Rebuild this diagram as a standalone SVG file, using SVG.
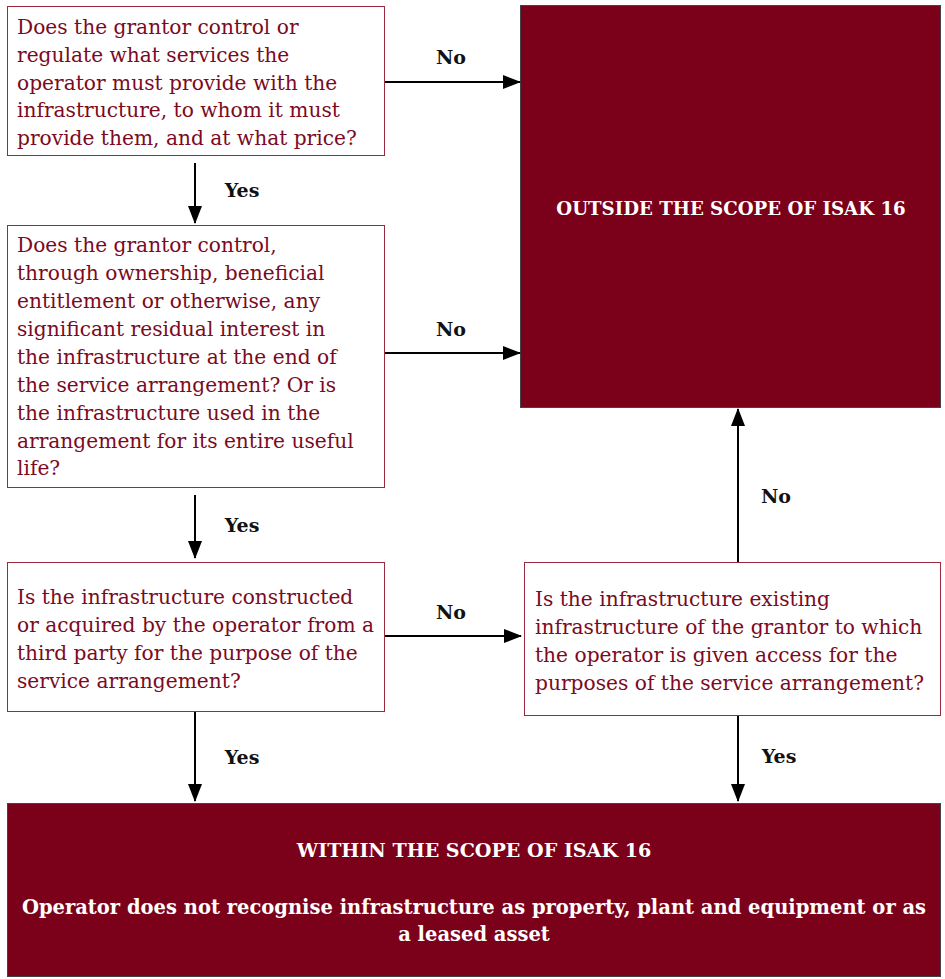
<svg xmlns="http://www.w3.org/2000/svg" width="945" height="979" viewBox="0 0 945 979">
<style>
.q{fill:#fff;stroke:#9b2a3e;stroke-width:1}
.t{font-family:"DejaVu Serif","Liberation Serif",serif;font-size:20.2px;fill:#7b0a22}
.dark{fill:#7b001a;stroke:#444;stroke-width:1}
.w{font-family:"DejaVu Serif","Liberation Serif",serif;font-weight:bold;fill:#fff;text-anchor:middle}
.lb{font-family:"DejaVu Serif","Liberation Serif",serif;font-size:19px;font-weight:bold;fill:#111;text-anchor:middle}
.c{stroke:#000;stroke-width:2;fill:none;marker-end:url(#ah)}
</style>
<defs>
<marker id="ah" markerWidth="18" markerHeight="14" refX="17" refY="7" orient="auto" markerUnits="userSpaceOnUse" viewBox="0 0 18 14">
<path d="M0,0 L18,7 L0,14 z" fill="#000"/>
</marker>
</defs>
<rect width="945" height="979" fill="#fff"/>
<g id="q1">
<rect class="q" x="7.5" y="6.5" width="377" height="149"/>
<text class="t"><tspan x="17" y="34">Does the grantor control or</tspan><tspan x="17" y="62">regulate what services the</tspan><tspan x="17" y="90">operator must provide with the</tspan><tspan x="17" y="117">infrastructure, to whom it must</tspan><tspan x="17" y="145">provide them, and at what price?</tspan></text>
</g>
<g id="q2">
<rect class="q" x="7.5" y="225.5" width="377" height="262"/>
<text class="t"><tspan x="17" y="252">Does the grantor control,</tspan><tspan x="17" y="280">through ownership, beneficial</tspan><tspan x="17" y="308">entitlement or otherwise, any</tspan><tspan x="17" y="336">significant residual interest in</tspan><tspan x="17" y="364">the infrastructure at the end of</tspan><tspan x="17" y="392">the service arrangement? Or is</tspan><tspan x="17" y="420">the infrastructure used in the</tspan><tspan x="17" y="448">arrangement for its entire useful</tspan><tspan x="17" y="475">life?</tspan></text>
</g>
<g id="q3">
<rect class="q" x="7.5" y="562.5" width="377" height="149"/>
<text class="t"><tspan x="17" y="604">Is the infrastructure constructed</tspan><tspan x="17" y="632">or acquired by the operator from a</tspan><tspan x="17" y="660">third party for the purpose of the</tspan><tspan x="17" y="688">service arrangement?</tspan></text>
</g>
<g id="q4">
<rect class="q" x="524.5" y="562.5" width="416" height="153"/>
<text class="t"><tspan x="535" y="606">Is the infrastructure existing</tspan><tspan x="535" y="634">infrastructure of the grantor to which</tspan><tspan x="535" y="662">the operator is given access for the</tspan><tspan x="535" y="690">purposes of the service arrangement?</tspan></text>
</g>
<g id="outside">
<rect class="dark" x="520.5" y="5.5" width="420" height="402"/>
<text class="w" x="731" y="215" font-size="18.2">OUTSIDE THE SCOPE OF ISAK 16</text>
</g>
<g id="within">
<rect class="dark" x="7.5" y="803.5" width="933" height="173"/>
<text class="w" x="474" y="857" font-size="19.1">WITHIN THE SCOPE OF ISAK 16</text>
<text class="w" font-size="19.5"><tspan x="474" y="914">Operator does not recognise infrastructure as property, plant and equipment or as</tspan><tspan x="474" y="941">a leased asset</tspan></text>
</g>
<g id="connectors">
<path class="c" d="M385,82 H520"/>
<path class="c" d="M195,163 V223"/>
<path class="c" d="M385,353 H520"/>
<path class="c" d="M195,495 V558"/>
<path class="c" d="M385,636 H521"/>
<path class="c" d="M738,562 V409"/>
<path class="c" d="M195,712 V801"/>
<path class="c" d="M738,716 V801"/>
<text class="lb" x="451" y="64">No</text>
<text class="lb" x="242" y="197">Yes</text>
<text class="lb" x="451" y="336">No</text>
<text class="lb" x="242" y="532">Yes</text>
<text class="lb" x="451" y="619">No</text>
<text class="lb" x="776" y="503">No</text>
<text class="lb" x="242" y="764">Yes</text>
<text class="lb" x="779" y="763">Yes</text>
</g>
</svg>
